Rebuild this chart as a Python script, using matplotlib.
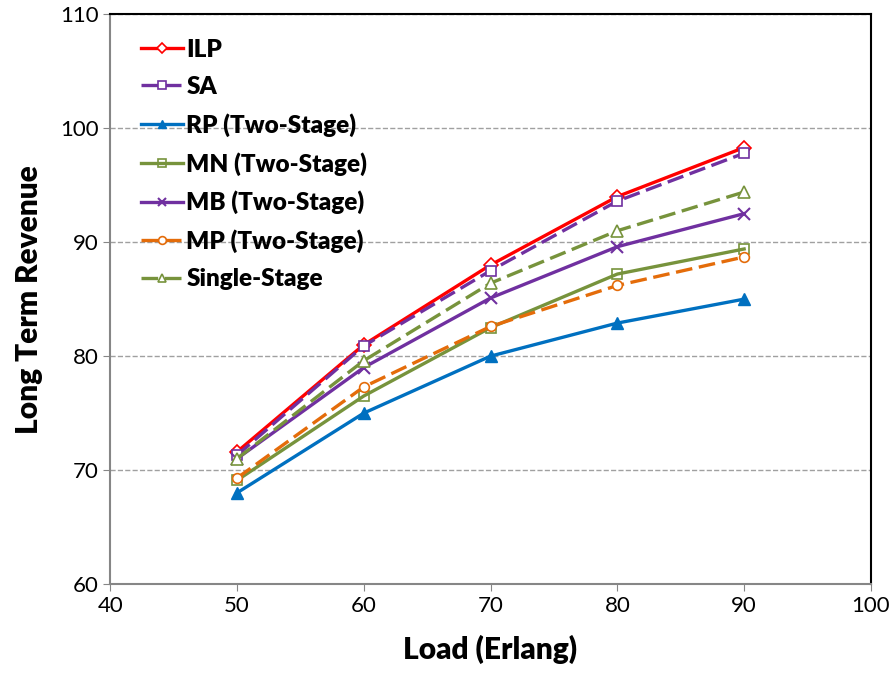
import matplotlib.pyplot as plt

# data
load = [50, 60, 70, 80, 90]
ilp = [71.6, 81.0, 88.0, 94.0, 98.3]
sa = [71.3, 80.9, 87.5, 93.6, 97.8]
rp = [68.0, 75.0, 80.0, 82.9, 85.0]
mn = [69.1, 76.5, 82.5, 87.2, 89.4]
mb = [71.0, 79.0, 85.1, 89.6, 92.5]
mp = [69.3, 77.3, 82.6, 86.2, 88.7]
single = [71.0, 79.6, 86.4, 91.0, 94.4]

plt.rcParams['font.family'] = ['Lato', 'DejaVu Sans']

fig = plt.figure(figsize=(8.96, 6.76), dpi=100)
ax = fig.add_axes([0.123, 0.136, 0.849, 0.843])

dash = (0, (5, 2))
lw = 2.4
ax.plot(load, ilp, color='#FF0000', lw=lw, ls='-', marker='D', ms=7, mfc='white', mec='#FF0000', mew=1.2, label='ILP')
ax.plot(load, sa, color='#7030A0', lw=lw, ls=dash, marker='s', ms=7, mfc='white', mec='#7030A0', mew=1.2, label='SA')
ax.plot(load, rp, color='#0070C0', lw=lw, ls='-', marker='^', ms=8, mfc='#0070C0', mec='#0070C0', label='RP (Two-Stage)')
ax.plot(load, mn, color='#77933C', lw=lw, ls='-', marker='s', ms=7, mfc='none', mec='#77933C', mew=1.2, label='MN (Two-Stage)')
ax.plot(load, mb, color='#7030A0', lw=lw, ls='-', marker='x', ms=8, mec='#7030A0', mew=1.5, label='MB (Two-Stage)')
ax.plot(load, mp, color='#E46C0A', lw=lw, ls=dash, marker='o', ms=7, mfc='white', mec='#E46C0A', mew=1.2, label='MP (Two-Stage)')
ax.plot(load, single, color='#77933C', lw=lw, ls=dash, marker='^', ms=8, mfc='white', mec='#77933C', mew=1.2, label='Single-Stage')

ax.set_xlim(40, 100)
ax.set_ylim(60, 110)
ax.set_xticks(range(40, 101, 10))
ax.set_yticks(range(60, 111, 10))
ax.tick_params(labelsize=16, direction='out', length=5, color='#868686')
ax.yaxis.grid(True, ls='--', color='#A0A0A0', lw=1)
ax.set_axisbelow(True)
for s in ['top', 'right']:
    ax.spines[s].set_color('black')
    ax.spines[s].set_linewidth(1.5)
for s in ['left', 'bottom']:
    ax.spines[s].set_color('#868686')
    ax.spines[s].set_linewidth(1.5)

ax.set_xlabel('Load (Erlang)', fontsize=21.5, fontweight='heavy', labelpad=14)
ax.set_ylabel('Long Term Revenue', fontsize=21.5, fontweight='heavy', labelpad=12)

leg = ax.legend(loc='upper left', bbox_to_anchor=(0.012, 0.995), frameon=False,
                prop={'size': 17.5, 'weight': 'heavy'}, handlelength=1.7,
                handletextpad=0.15, labelspacing=0.62, markerscale=0.8)

plt.savefig('out.png', dpi=100)
